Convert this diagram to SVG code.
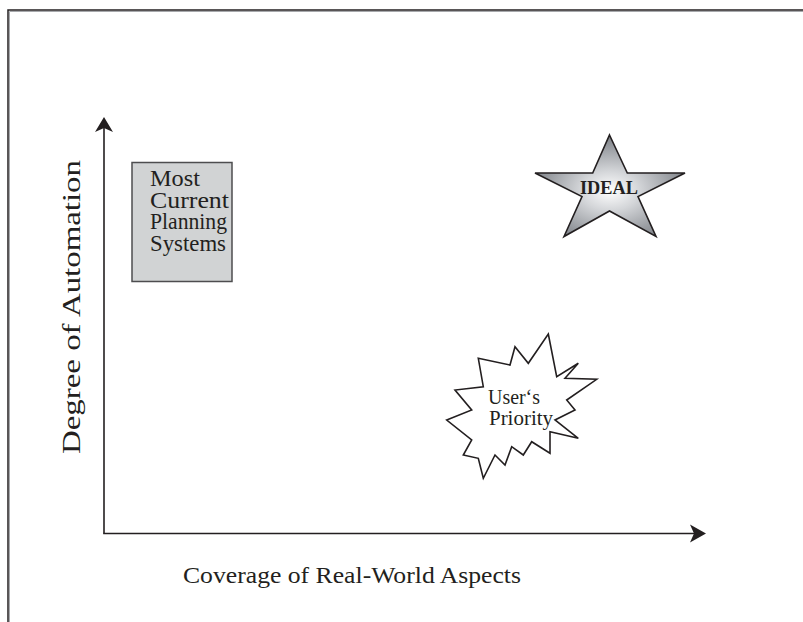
<svg xmlns="http://www.w3.org/2000/svg" width="803" height="622" viewBox="0 0 803 622">
<defs>
<style>
.ln{stroke:#231f20;stroke-width:1.6;fill:none}
.lbl{font-family:"Liberation Serif","Times New Roman",serif;fill:#231f20}
</style>
<radialGradient id="silver" cx="0.5" cy="0.55" r="0.55">
<stop offset="0" stop-color="#ffffff"/>
<stop offset="0.35" stop-color="#d4d6d9"/>
<stop offset="1" stop-color="#7a7e84"/>
</radialGradient>
</defs>
<rect width="803" height="622" fill="#ffffff"/>
<g id="frame">
<path d="M8 622 V10 H803" fill="none" stroke="#231f20" stroke-width="1.5"/>
<path d="M9.5 622 V11.5 H803" fill="none" stroke="#a7a9ac" stroke-width="1"/>
</g>
<g id="connectors">
<path class="ln" d="M104 533.5 V126"/>
<path d="M104 117 L113 132 L104 128 L95 132 Z" fill="#231f20"/>
<path class="ln" d="M103.2 533.5 H696"/>
<path d="M706 533.5 L690 524.5 L694 533.5 L690 542.5 Z" fill="#231f20"/>
</g>
<g id="y-label">
<text class="lbl" font-size="24.5" transform="translate(80 307) rotate(-90)" text-anchor="middle" textLength="294" lengthAdjust="spacingAndGlyphs">Degree of Automation</text>
</g>
<g id="x-label">
<text class="lbl" font-size="23" x="183" y="583" textLength="338" lengthAdjust="spacingAndGlyphs">Coverage of Real-World Aspects</text>
</g>
<g id="node-current">
<rect x="132" y="162.5" width="100" height="119" fill="#d1d3d4" stroke="#4d4d4f" stroke-width="1.5"/>
<text class="lbl" font-size="23.5" x="150" y="186" textLength="50" lengthAdjust="spacingAndGlyphs">Most</text>
<text class="lbl" font-size="23.5" x="150" y="207.5" textLength="79" lengthAdjust="spacingAndGlyphs">Current</text>
<text class="lbl" font-size="23.5" x="150" y="229" textLength="77" lengthAdjust="spacingAndGlyphs">Planning</text>
<text class="lbl" font-size="23.5" x="150" y="250.5" textLength="76" lengthAdjust="spacingAndGlyphs">Systems</text>
</g>
<g id="node-ideal">
<path d="M609.5 135 L627.3 173 L685 173 L638 196.5 L656 236.5 L609.5 211 L564 236.5 L582 196.5 L535 173 L592.7 173 Z" fill="url(#silver)" stroke="#231f20" stroke-width="1.6" stroke-linejoin="miter"/>
<text class="lbl" font-size="19.5" font-weight="bold" x="609" y="193.5" text-anchor="middle" textLength="58" lengthAdjust="spacingAndGlyphs">IDEAL</text>
</g>
<g id="node-priority">
<path d="M548.3 334 L556.7 376.7 L578.3 363.3 L565 378.3 L596.7 379.3 L566.7 400 L575 410 L555 420 L578.3 438.3 L550 431.7 L550 453.3 L531.7 441.7 L523.3 455 L511.7 446.7 L505 465 L495 455 L483.3 478.3 L478.3 458.3 L463.3 455 L471.7 440 L446.7 420 L471.7 410 L455 390 L483.3 386.7 L478.3 358.3 L510 365 L515 346.7 L528.3 363.3 Z" fill="#ffffff" stroke="#231f20" stroke-width="1.6" stroke-linejoin="miter"/>
<text class="lbl" font-size="22" x="488" y="404" textLength="52" lengthAdjust="spacingAndGlyphs">User‘s</text>
<text class="lbl" font-size="22" x="489" y="425" textLength="64" lengthAdjust="spacingAndGlyphs">Priority</text>
</g>
</svg>
